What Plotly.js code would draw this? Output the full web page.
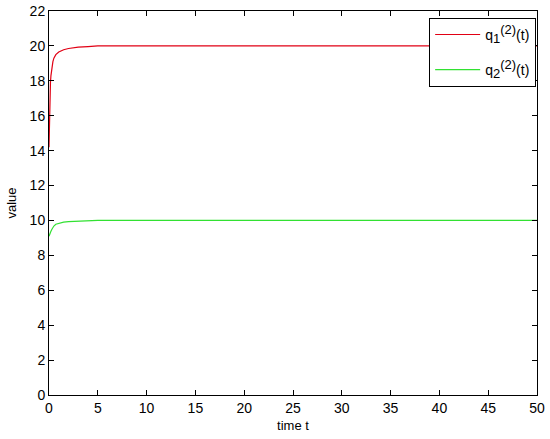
<!DOCTYPE html>
<html>
<head>
<meta charset="utf-8">
<script src="https://cdn.plot.ly/plotly-3.0.1.min.js"></script>
<style>html,body{margin:0;padding:0;background:#fff;}#chart{width:550px;height:439px;}</style>
</head>
<body>
<div id="chart"></div>
<script>
var t  = [0, 0.05, 0.1, 0.15, 0.2, 0.3, 0.4, 0.5, 0.7, 1.0, 1.5, 2.0, 3.0, 4.0, 5.0, 10, 20, 30, 40, 50];
var q1 = [14.2, 16.0, 17.2, 17.9, 18.3, 18.8, 19.1, 19.3, 19.5, 19.65, 19.78, 19.85, 19.93, 19.96, 20.0, 20.0, 20.0, 20.0, 20.0, 20.0];
var q2 = [9.1, 9.15, 9.22, 9.3, 9.38, 9.5, 9.6, 9.68, 9.78, 9.84, 9.9, 9.93, 9.96, 9.98, 10.0, 10.0, 10.0, 10.0, 10.0, 10.0];
var names = ['q<sub><span style="font-size:13px">1</span></sub><sup><span style="font-size:13px">(2)</span></sup>(t)',
             'q<sub><span style="font-size:13px">2</span></sub><sup><span style="font-size:13px">(2)</span></sup>(t)'];
var xTicks = [0,5,10,15,20,25,30,35,40,45,50];
var yTicks = [0,2,4,6,8,10,12,14,16,18,20,22];

var traces = [
  {x: t, y: q1, name: names[0], legendgroup: 'a', mode: 'lines', line: {color: 'rgb(225,0,20)', width: 1.2}},
  {x: t, y: q2, name: names[1], legendgroup: 'b', mode: 'lines', line: {color: 'rgb(50,225,50)', width: 1.2}}
];
var fam = 'Liberation Sans, Arial, sans-serif';
var axFont = {family: fam, size: 14, color: '#000'};
var layout = {
  width: 550, height: 439,
  margin: {l: 49, r: 13, t: 11, b: 44},
  paper_bgcolor: '#fff', plot_bgcolor: '#fff',
  font: axFont,
  showlegend: true,
  xaxis: {range: [0, 50], tickvals: xTicks, ticks: 'inside', ticklen: 5, tickcolor: '#000',
          showline: true, linecolor: '#000', linewidth: 1, mirror: 'ticks', showgrid: false, zeroline: false,
          tickfont: axFont, title: {text: 'time t', font: {family: fam, size: 13}, standoff: 6}},
  yaxis: {range: [0, 22], tickvals: yTicks, ticks: 'inside', ticklen: 5, tickcolor: '#000',
          showline: true, linecolor: '#000', linewidth: 1, mirror: 'ticks', showgrid: false, zeroline: false,
          tickfont: axFont, title: {text: 'value', font: {family: fam, size: 13}, standoff: 10}},
  legend: {x: 0.779, y: 0.982, xanchor: 'left', yanchor: 'top', bgcolor: '#fff', bordercolor: '#000', borderwidth: 1,
           itemwidth: 45, traceorder: 'grouped', tracegroupgap: 14, font: {family: fam, size: 14}}
};
Plotly.newPlot('chart', traces, layout, {displayModeBar: false, staticPlot: true});
</script>
</body>
</html>
